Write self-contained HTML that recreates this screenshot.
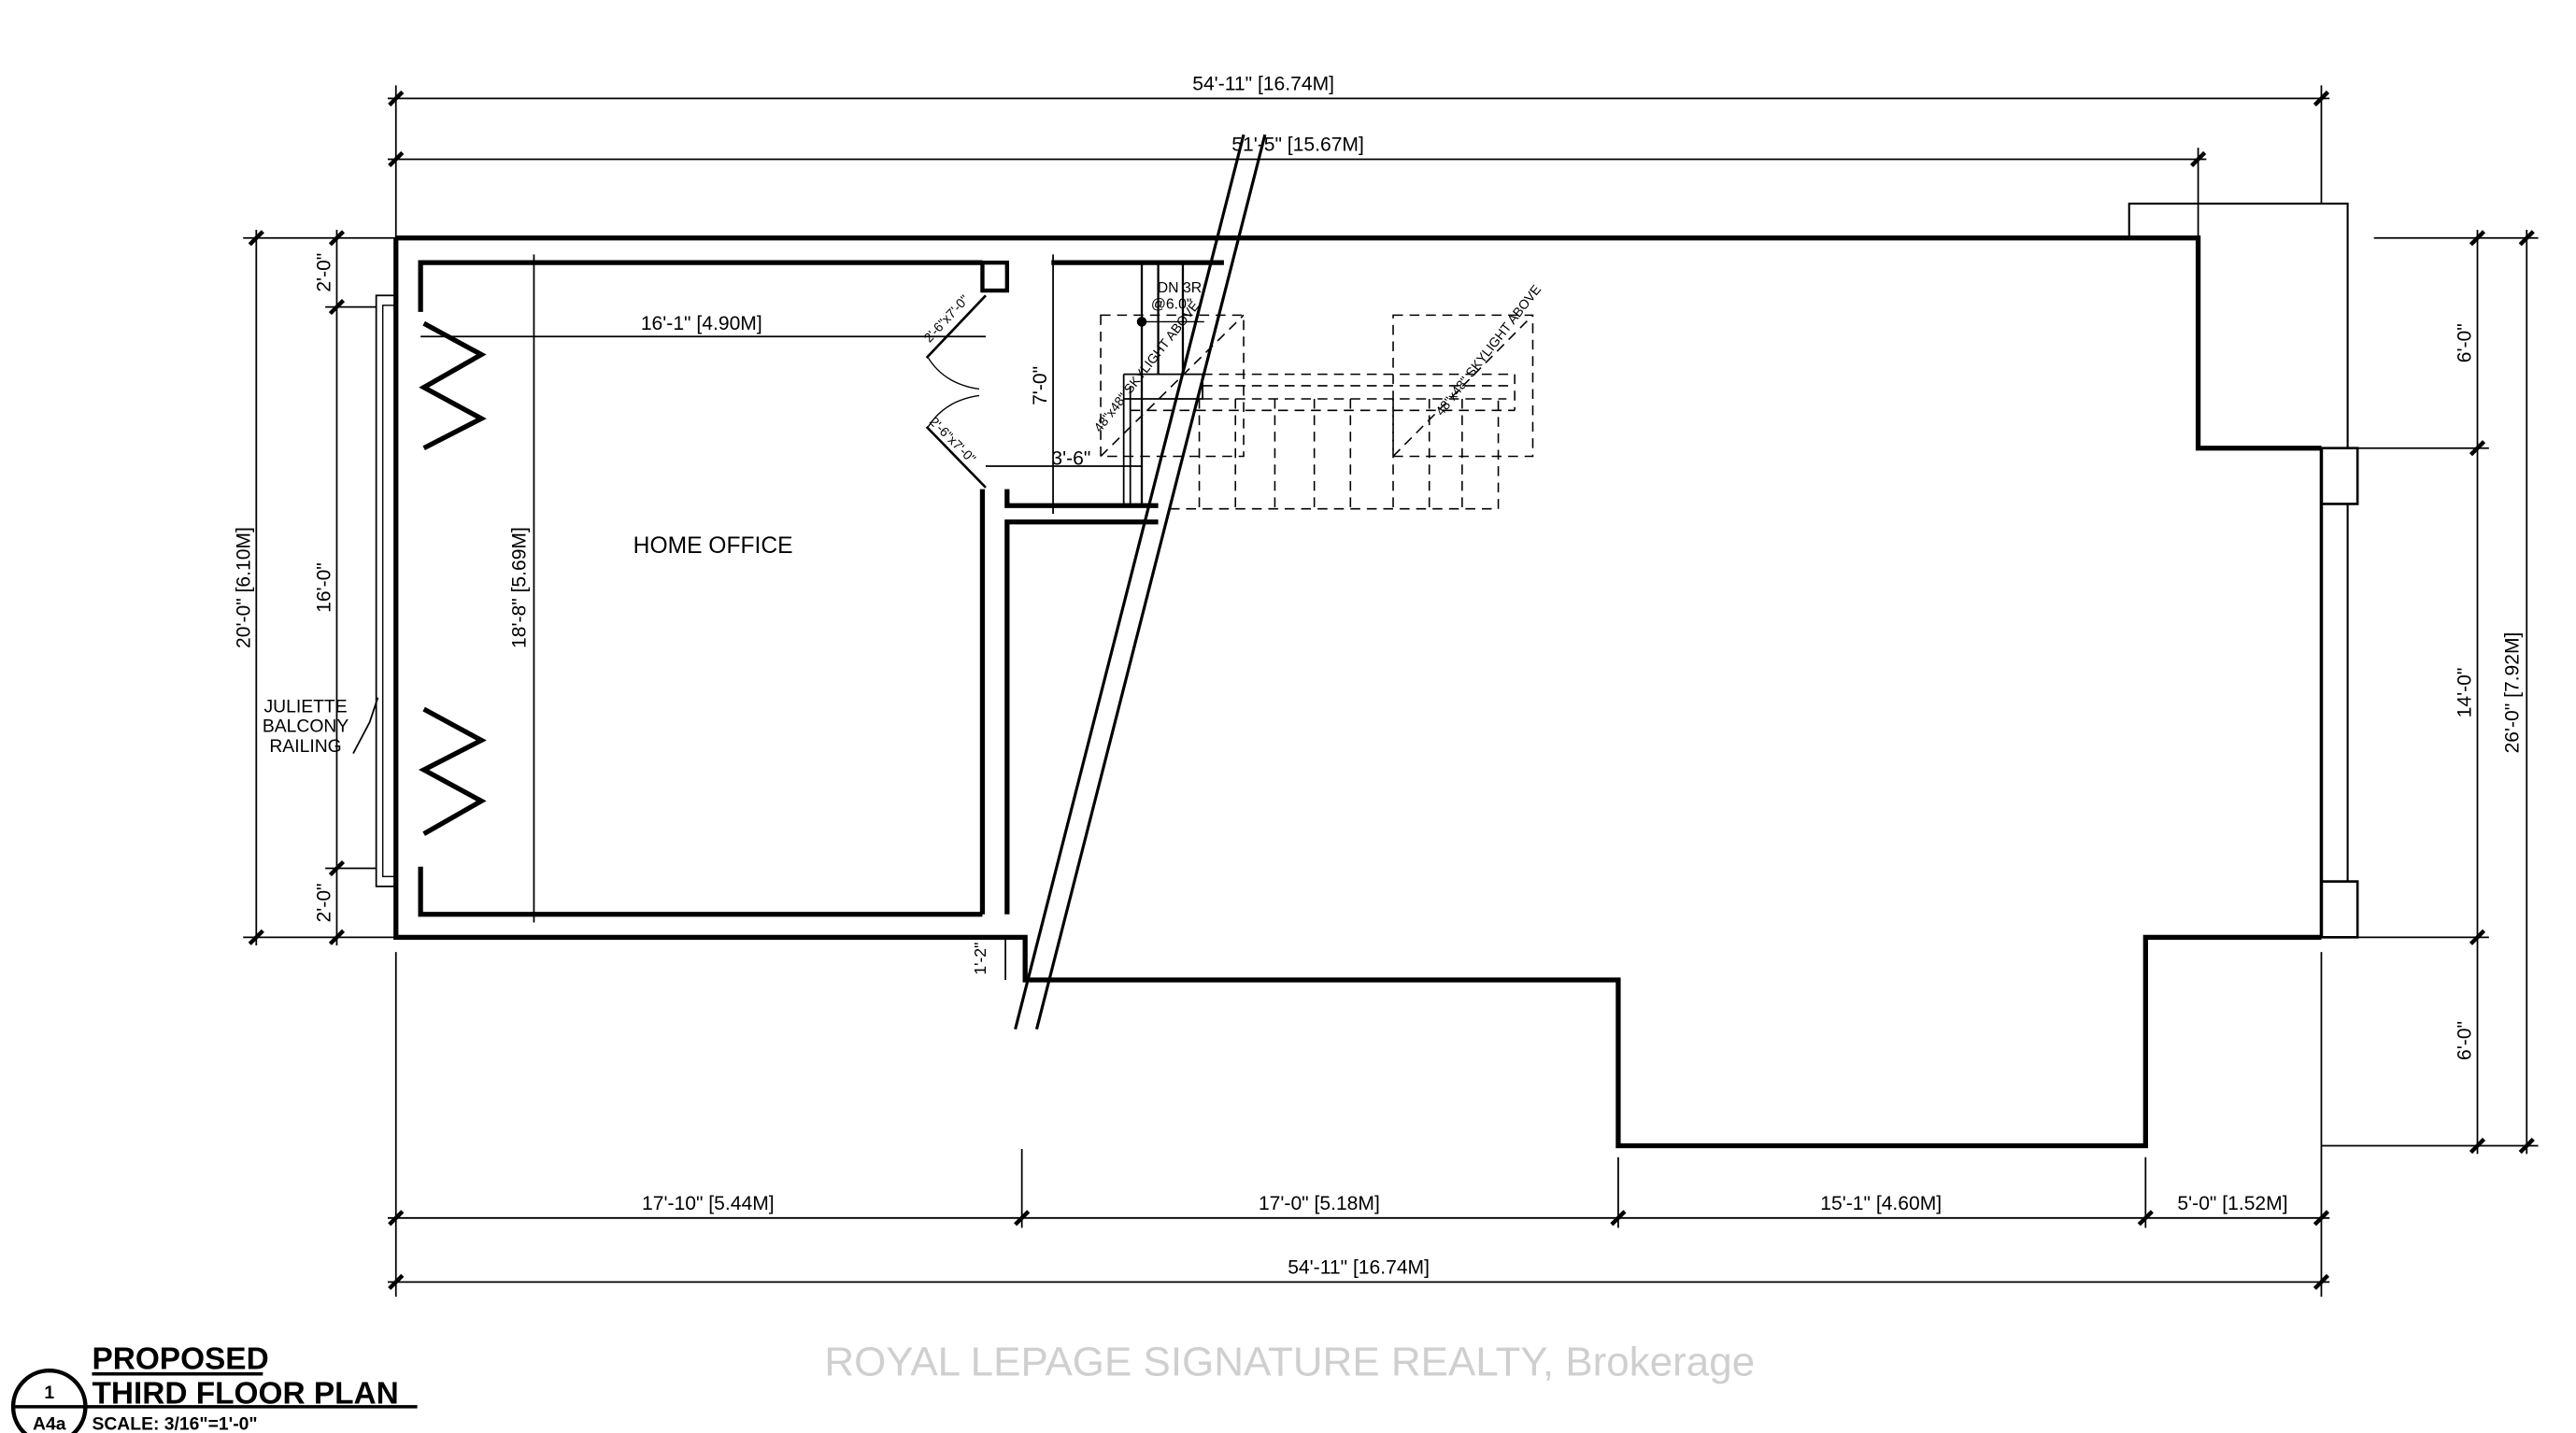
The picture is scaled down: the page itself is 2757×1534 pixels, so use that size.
<!DOCTYPE html>
<html><head><meta charset="utf-8"><style>
html,body{margin:0;padding:0;background:#fff;}
svg{display:block;}
text{font-family:"Liberation Sans",sans-serif;fill:#000;}
</style></head><body>
<svg width="2757" height="1534" viewBox="0 0 1568 873" preserveAspectRatio="none" xmlns="http://www.w3.org/2000/svg">
<rect width="1568" height="873" fill="#fff"/>
<g stroke="#000" fill="none">
<polyline stroke-width="3" points="241,145 1338,145 1338,273 1413,273"/>
<polyline stroke-width="3" points="1413,571 1306,571 1306,698 985,698 985,597 624,597 624,571 241,571 241,145"/>
<line x1="1413" y1="273" x2="1413" y2="571" stroke-width="2"/>
<line x1="1429" y1="307" x2="1429" y2="537" stroke-width="1.2"/>
<rect x="1413" y="273" width="22" height="34" stroke-width="1.5"/>
<rect x="1413" y="537" width="22" height="34" stroke-width="1.5"/>
<polyline stroke-width="1.2" points="1338,145 1296,145 1296,124 1429,124 1429,273"/>
<polyline stroke-width="3" points="256,190 256,160 598,160"/>
<polyline stroke-width="3" points="256,528 256,557 598,557"/>
<polyline stroke-width="3" points="613,557 613,318 705,318"/>
<polyline stroke-width="3" points="613,298 613,308 705,308"/>
<polyline stroke-width="3" points="598,557 598,298"/>
<rect x="598" y="160" width="15" height="17" stroke-width="2.5"/>
<line x1="640" y1="160" x2="745" y2="160" stroke-width="3"/>
<rect x="229" y="180" width="12" height="360" stroke-width="1"/>
<rect x="233" y="186" width="8" height="348" stroke-width="0.8"/>
<polyline stroke-width="3" points="258,197 293,216 258,236 293,255 258,273"/>
<polyline stroke-width="3" points="258,432 293,451 258,469 293,488 258,508"/>
<line x1="600" y1="180" x2="564" y2="218" stroke-width="1.5"/>
<line x1="600" y1="297" x2="564" y2="260" stroke-width="1.5"/>
<path d="M565,218 Q575,234 596,237" stroke-width="0.8"/>
<path d="M565,260 Q575,244 596,241" stroke-width="0.8"/>
<line x1="684" y1="228" x2="684" y2="308" stroke-width="1"/>
<line x1="688" y1="235" x2="688" y2="308" stroke-width="1"/>
<line x1="695" y1="160" x2="695" y2="308" stroke-width="1.3"/>
<line x1="705" y1="160" x2="705" y2="228" stroke-width="1.3"/>
<line x1="720" y1="160" x2="720" y2="228" stroke-width="1.3"/>
<polyline stroke-width="1" points="684,228 732,228 732,243 684,243"/>
<line x1="695" y1="196" x2="733" y2="196" stroke-width="0.8"/>
<circle cx="695" cy="196" r="2.5" fill="#000"/>
<g stroke-dasharray="6,4" stroke-width="0.9">
<rect x="670" y="192" width="87" height="86"/>
<rect x="848" y="192" width="85" height="86"/>
<line x1="732" y1="228" x2="922" y2="228"/>
<line x1="732" y1="235" x2="920" y2="235"/>
<line x1="732" y1="243" x2="917" y2="243"/>
<line x1="688" y1="250" x2="922" y2="250"/>
<line x1="922" y1="228" x2="922" y2="250"/>
<polyline points="712,310 912,310 912,243"/>
<line x1="730" y1="243" x2="730" y2="310"/>
<line x1="752" y1="243" x2="752" y2="310"/>
<line x1="776" y1="243" x2="776" y2="310"/>
<line x1="800" y1="243" x2="800" y2="310"/>
<line x1="822" y1="243" x2="822" y2="310"/>
<line x1="848" y1="243" x2="848" y2="310"/>
<line x1="870" y1="243" x2="870" y2="310"/>
<line x1="890" y1="243" x2="890" y2="310"/>
<line x1="670" y1="278" x2="757" y2="192"/>
<line x1="848" y1="278" x2="933" y2="192"/>
</g>
<line x1="757" y1="82" x2="618" y2="627" stroke-width="1.8"/>
<line x1="770" y1="82" x2="631" y2="627" stroke-width="1.8"/>
<g stroke-width="1">
<line x1="236" y1="60" x2="1418" y2="60"/>
<line x1="241" y1="52" x2="241" y2="145"/><line x1="1413" y1="52" x2="1413" y2="124"/>
<line x1="236" y1="97" x2="1343" y2="97"/>
<line x1="1338" y1="90" x2="1338" y2="145"/>
<line x1="236" y1="742" x2="1418" y2="742"/>
<line x1="236" y1="781" x2="1418" y2="781"/>
<line x1="241" y1="580" x2="241" y2="790"/><line x1="1413" y1="580" x2="1413" y2="790"/>
<line x1="622" y1="700" x2="622" y2="748"/><line x1="985" y1="705" x2="985" y2="748"/><line x1="1306" y1="705" x2="1306" y2="748"/>
<line x1="156" y1="140" x2="156" y2="576"/>
<line x1="148" y1="145" x2="241" y2="145"/><line x1="148" y1="571" x2="241" y2="571"/>
<line x1="205" y1="140" x2="205" y2="576"/>
<line x1="198" y1="187" x2="229" y2="187"/><line x1="198" y1="529" x2="229" y2="529"/>
<line x1="1508" y1="140" x2="1508" y2="703"/>
<line x1="1538" y1="140" x2="1538" y2="703"/>
<line x1="1445" y1="145" x2="1545" y2="145"/><line x1="1435" y1="273" x2="1515" y2="273"/>
<line x1="1435" y1="571" x2="1515" y2="571"/><line x1="1413" y1="698" x2="1545" y2="698"/>
<line x1="325" y1="155" x2="325" y2="562"/>
<line x1="256" y1="205" x2="600" y2="205"/>
<line x1="641" y1="155" x2="641" y2="313"/>
<line x1="600" y1="284" x2="695" y2="284"/>
<line x1="612" y1="572" x2="612" y2="597"/>
<polyline points="215,459 225,440 230,425"/>
</g>
<g stroke-width="2.5">
<line x1="237" y1="64" x2="245" y2="56"/><line x1="1409" y1="64" x2="1417" y2="56"/>
<line x1="237" y1="101" x2="245" y2="93"/><line x1="1334" y1="101" x2="1342" y2="93"/>
<line x1="237" y1="746" x2="245" y2="738"/><line x1="618" y1="746" x2="626" y2="738"/><line x1="981" y1="746" x2="989" y2="738"/><line x1="1302" y1="746" x2="1310" y2="738"/><line x1="1409" y1="746" x2="1417" y2="738"/>
<line x1="237" y1="785" x2="245" y2="777"/><line x1="1409" y1="785" x2="1417" y2="777"/>
<line x1="152" y1="149" x2="160" y2="141"/><line x1="152" y1="575" x2="160" y2="567"/>
<line x1="201" y1="149" x2="209" y2="141"/><line x1="201" y1="191" x2="209" y2="183"/><line x1="201" y1="533" x2="209" y2="525"/><line x1="201" y1="575" x2="209" y2="567"/>
<line x1="1504" y1="149" x2="1512" y2="141"/><line x1="1504" y1="277" x2="1512" y2="269"/><line x1="1504" y1="575" x2="1512" y2="567"/><line x1="1504" y1="702" x2="1512" y2="694"/>
<line x1="1534" y1="149" x2="1542" y2="141"/><line x1="1534" y1="702" x2="1542" y2="694"/>
</g>
<circle cx="30" cy="857" r="22" stroke-width="2.5"/>
<line x1="8" y1="857" x2="254" y2="857" stroke-width="2"/>
<line x1="56" y1="837" x2="160" y2="837" stroke-width="2"/>
</g>
<g font-size="12">
<text x="769" y="55" text-anchor="middle">54'-11" [16.74M]</text>
<text x="790" y="92" text-anchor="middle">51'-5" [15.67M]</text>
<text x="427" y="201" text-anchor="middle">16'-1" [4.90M]</text>
<text x="431" y="737" text-anchor="middle">17'-10" [5.44M]</text>
<text x="803" y="737" text-anchor="middle">17'-0" [5.18M]</text>
<text x="1145" y="737" text-anchor="middle">15'-1" [4.60M]</text>
<text x="1359" y="737" text-anchor="middle">5'-0" [1.52M]</text>
<text x="827" y="776" text-anchor="middle">54'-11" [16.74M]</text>
<text x="652" y="283" text-anchor="middle">3'-6"</text>
<text x="186" y="458" text-anchor="middle" font-size="11">RAILING</text>
<text x="186" y="446" text-anchor="middle" font-size="11">BALCONY</text>
<text x="186" y="434" text-anchor="middle" font-size="11">JULIETTE</text>
<text x="718" y="178" text-anchor="middle" font-size="9">DN 3R</text>
<text x="713" y="188" text-anchor="middle" font-size="9">@6.0"</text>
<text transform="translate(152,358) rotate(-90)" text-anchor="middle">20'-0" [6.10M]</text>
<text transform="translate(201,166) rotate(-90)" text-anchor="middle">2'-0"</text>
<text transform="translate(201,358) rotate(-90)" text-anchor="middle">16'-0"</text>
<text transform="translate(201,550) rotate(-90)" text-anchor="middle">2'-0"</text>
<text transform="translate(320,358) rotate(-90)" text-anchor="middle">18'-8" [5.69M]</text>
<text transform="translate(637,235) rotate(-90)" text-anchor="middle">7'-0"</text>
<text transform="translate(600,584) rotate(-90)" text-anchor="middle" font-size="10">1'-2"</text>
<text transform="translate(1504,209) rotate(-90)" text-anchor="middle">6'-0"</text>
<text transform="translate(1504,422) rotate(-90)" text-anchor="middle">14'-0"</text>
<text transform="translate(1504,634) rotate(-90)" text-anchor="middle">6'-0"</text>
<text transform="translate(1533,422) rotate(-90)" text-anchor="middle">26'-0" [7.92M]</text>
<text transform="translate(578,196) rotate(-47)" text-anchor="middle" font-size="8">2'-6"x7'-0"</text>
<text transform="translate(578,270) rotate(45)" text-anchor="middle" font-size="8">2'-6"x7'-0"</text>
<text transform="translate(700,225) rotate(-52)" text-anchor="middle" font-size="8">48"x48" SKYLIGHT ABOVE</text>
<text transform="translate(908,215) rotate(-52)" text-anchor="middle" font-size="8">48"x48" SKYLIGHT ABOVE</text>
</g>
<text x="434" y="337" text-anchor="middle" font-size="14">HOME OFFICE</text>
<text x="56" y="834" font-size="19" font-weight="bold">PROPOSED</text>
<text x="56" y="855" font-size="19" font-weight="bold">THIRD FLOOR PLAN</text>
<text x="56" y="871" font-size="11" font-weight="bold">SCALE: 3/16"=1'-0"</text>
<text x="30" y="852" font-size="11" font-weight="bold" text-anchor="middle">1</text>
<text x="30" y="871" font-size="11" font-weight="bold" text-anchor="middle">A4a</text>
<text x="785" y="838" font-size="25" text-anchor="middle" style="fill:#cfcfcf">ROYAL LEPAGE SIGNATURE REALTY, Brokerage</text>
</svg>
</body></html>
